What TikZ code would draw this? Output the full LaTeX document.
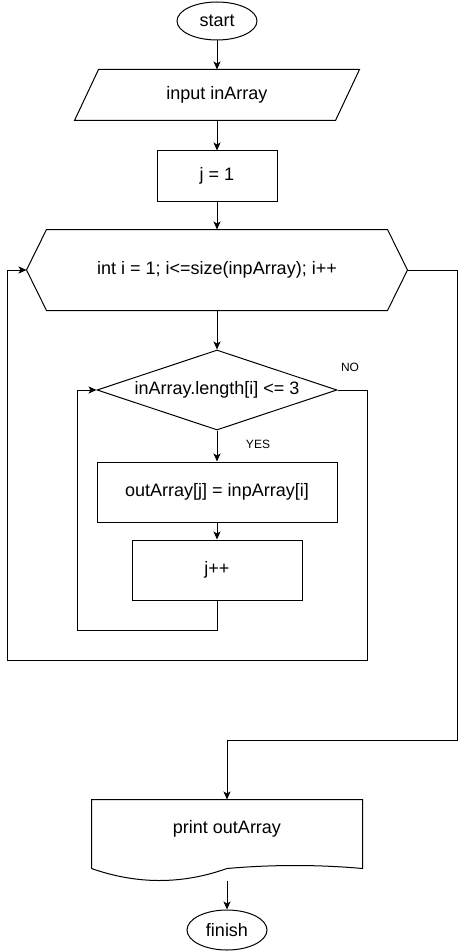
\documentclass[tikz,border=0pt]{standalone}
\usepackage{fontspec}
\setmainfont{Liberation Sans}
\usetikzlibrary{arrows.meta,shapes.geometric}
\begin{document}
\begin{tikzpicture}[x=1pt,y=-1pt,
  line width=1pt,
  every node/.style={font=\fontsize{18}{21}\selectfont, inner sep=0pt},
  terminal/.style={ellipse, draw, minimum width=80pt},
  procbox/.style={rectangle, draw},
  plain/.style={rectangle},
  small/.style={font=\fontsize{12}{14}\selectfont},
  arr/.style={-{Stealth[length=8pt,width=7pt,inset=2pt]}}]
\useasboundingbox (0,0) rectangle (466,952);

% terminals
\node[terminal, minimum height=38pt] (start) at (217,21) {start};
\node[terminal, minimum height=40pt] (finish) at (227,930) {finish};

% input (parallelogram drawn around its node)
\node[plain, minimum width=260pt, minimum height=50pt] (input) at (217,95) {input inArray};
\draw ([xshift=12pt]input.north west) -- ([xshift=12pt]input.north east)
  -- ([xshift=-12pt]input.south east) -- ([xshift=-12pt]input.south west) -- cycle;

% j = 1
\node[procbox, minimum width=120pt, minimum height=50pt] (j1) at (217,176) {j = 1};

% loop header (hexagon)
\node[plain, minimum width=380pt, minimum height=80pt] (loop) at (217,270) {int i = 1; i<=size(inpArray); i++};
\draw ([xshift=20pt]loop.north west) -- ([xshift=-20pt]loop.north east) -- (loop.east)
  -- ([xshift=-20pt]loop.south east) -- ([xshift=20pt]loop.south west) -- (loop.west) -- cycle;

% condition
\node[diamond, draw, aspect=3, minimum width=240pt, minimum height=80pt] (cond) at (217,390) {inArray.length[i] <= 3};

% body
\node[procbox, minimum width=240pt, minimum height=60pt] (outa) at (217,492) {outArray[j] = inpArray[i]};
\node[procbox, minimum width=170pt, minimum height=60pt] (jpp) at (217,570) {j++};

% output document
\node[plain, minimum width=270pt, minimum height=58pt] (doc) at (227,829) {print outArray};
\draw (doc.south west) -- ([yshift=-10pt]doc.south west) -- (doc.north west) -- (doc.north east)
  -- ([yshift=-10pt]doc.south east)
  .. controls ([xshift=-45pt,yshift=-6pt]doc.south east) and ([xshift=-90pt,yshift=-6pt]doc.south east) .. ([yshift=-10pt]doc.south)
  .. controls ([xshift=-45pt,yshift=-26pt]doc.south) and ([xshift=-90pt,yshift=-26pt]doc.south) .. ([yshift=-10pt]doc.south west);

% routing points
\coordinate (innerBL) at (77,630);
\coordinate (noR) at (367,660);
\coordinate (outerL) at (7,660);
\coordinate (exitR) at (457,740);

% connectors
\draw[arr] (start) -- (input);
\draw[arr] (input) -- (j1);
\draw[arr] (j1) -- (loop);
\draw[arr] (loop) -- (cond);
\draw[arr] (cond.south) -- (outa.north);
\draw[arr] (outa) -- (jpp);
\draw[arr] (jpp.south) |- (innerBL) |- (cond.west);
\draw[arr] (cond.east) -| (noR) -- (outerL) |- (loop.west);
\draw[arr] (loop.east) -| (exitR) -| (doc.north);
\draw[arr] ([yshift=-22pt]doc.south) -- (finish.north);

% branch labels
\node[small] (yes) at (258,444) {YES};
\node[small] (no) at (350,367) {NO};
\end{tikzpicture}
\end{document}
